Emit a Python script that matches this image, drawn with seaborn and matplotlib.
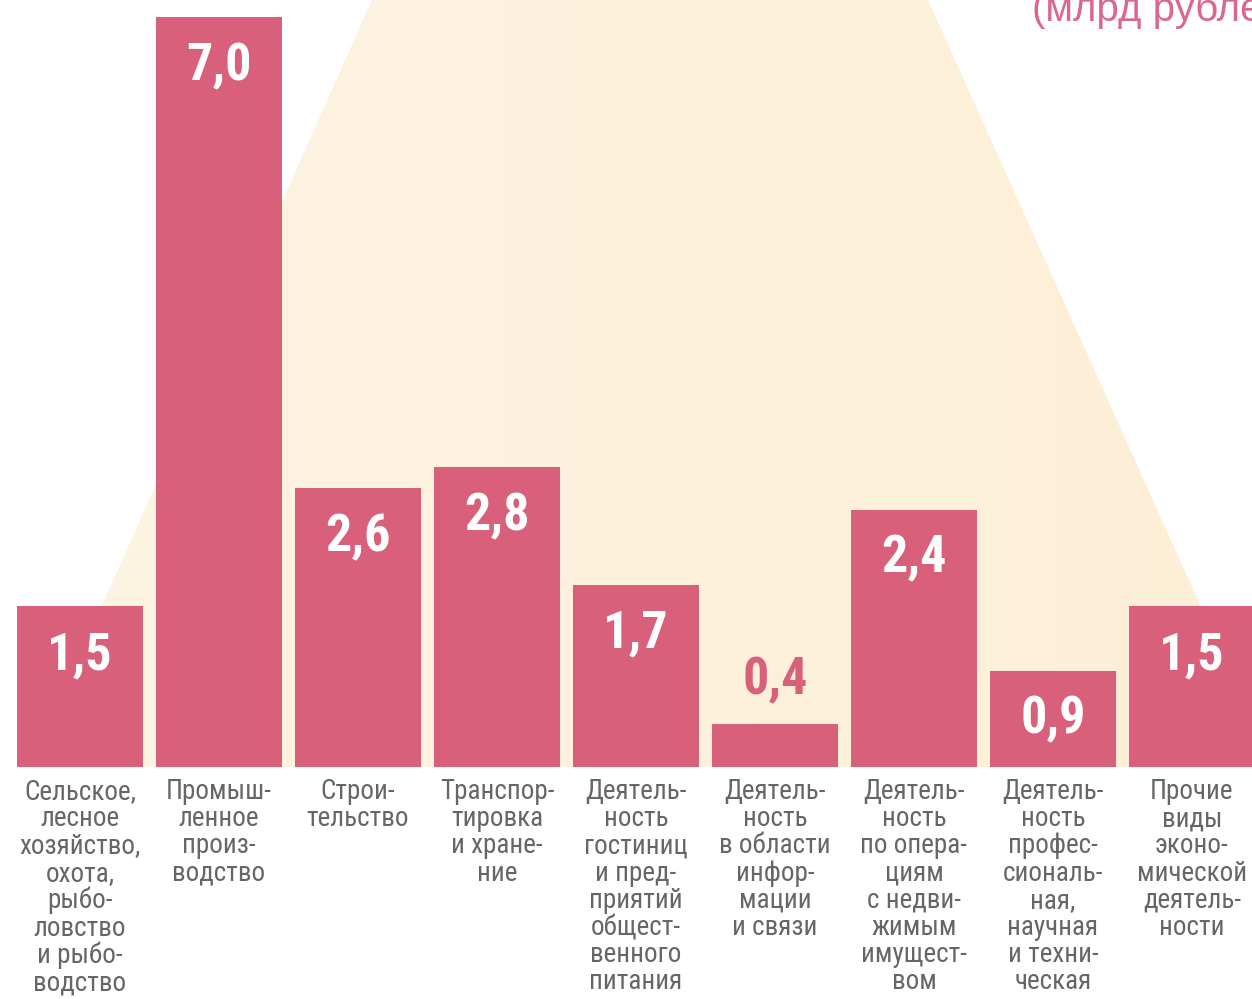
import numpy as np
import pandas as pd
import matplotlib
matplotlib.use("Agg")
import matplotlib.pyplot as plt
import seaborn as sns
from matplotlib import font_manager
from matplotlib.patches import Polygon

# === Data
categories = [
    "Сельское,\nлесное\nхозяйство,\nохота,\nрыбо-\nловство\nи рыбо-\nводство",
    "Промыш-\nленное\nпроиз-\nводство",
    "Строи-\nтельство",
    "Транспор-\nтировка\nи хране-\nние",
    "Деятель-\nность\nгостиниц\nи пред-\nприятий\nобщест-\nвенного\nпитания",
    "Деятель-\nность\nв области\nинфор-\nмации\nи связи",
    "Деятель-\nность\nпо опера-\nциям\nс недви-\nжимым\nимущест-\nвом",
    "Деятель-\nность\nпрофес-\nсиональ-\nная,\nнаучная\nи техни-\nческая",
    "Прочие\nвиды\nэконо-\nмической\nдеятель-\nности",
]
values = [1.5, 7.0, 2.6, 2.8, 1.7, 0.4, 2.4, 0.9, 1.5]
value_labels = ["1,5", "7,0", "2,6", "2,8", "1,7", "0,4", "2,4", "0,9", "1,5"]
title = "(млрд рублей)"

# === Style / fonts (prefer a condensed face if one exists)
sns.set_style("white")
fonts = font_manager.fontManager.ttflist
installed = {f.name for f in fonts}
stretch = "normal"
narrow = "Roboto"
for cand in ["Roboto Condensed", "Liberation Sans Narrow", "Open Sans Condensed",
             "Noto Sans Condensed", "DejaVu Sans Condensed"]:
    if cand in installed:
        narrow = cand
        break
else:
    cond = [f for f in fonts if f.name in ("Roboto", "Noto Sans", "Open Sans", "DejaVu Sans")
            and str(f.stretch) in ("condensed", "semi-condensed", "75", "87.5")]
    if cond:
        narrow = cond[0].name
        stretch = "condensed"
plt.rcParams["font.family"] = [narrow, "DejaVu Sans"]
plt.rcParams["font.stretch"] = stretch
condensed = narrow != "Roboto"

bar_color = "#D9607B"
label_color = "#666666"
title_color = "#DB6690"

W, H = 1252, 999
fig = plt.figure(figsize=(W / 100, H / 100), dpi=100)
fig.patch.set_facecolor("white")

# === Background trapezoid (pixel-like layout coords)
bg = fig.add_axes([0, 0, 1, 1])
bg.set_xlim(0, W)
bg.set_ylim(H, 0)
bg.axis("off")
trap = Polygon([(372, 0), (928, 0), (1273, 767), (30, 767)], closed=True,
               facecolor="none", edgecolor="none")
bg.add_patch(trap)
grad = np.linspace(0, 1, 256).reshape(1, -1)
cmap = matplotlib.colors.LinearSegmentedColormap.from_list("beige", ["#FDF4E3", "#FEEFD6"])
im = bg.imshow(grad, cmap=cmap, extent=[0, W, H, 0], aspect="auto")
im.set_clip_path(trap)

# === Bars
df = pd.DataFrame({"cat": categories, "val": values})
ax = fig.add_axes([0, (H - 767) / H, 1, 767 / H])
ax.patch.set_alpha(0)
pitch, px_per_unit = 139, 750 / 7.0
sns.barplot(data=df, x="cat", y="val", color=bar_color, saturation=1,
            width=126 / pitch, edgecolor="none", ax=ax)
ax.set_xlim(-80 / pitch, (W - 80) / pitch)
ax.set_ylim(0, 767 / px_per_unit)
ax.axis("off")

val_size = 37.5 if condensed else 37
for i, (v, lab) in enumerate(zip(values, value_labels)):
    if v < 0.6:
        ax.text(i, v + 30 / px_per_unit, lab, ha="center", va="baseline",
                fontsize=val_size, fontweight="bold", color=bar_color)
    else:
        ax.text(i, v - 63 / px_per_unit, lab, ha="center", va="baseline",
                fontsize=val_size, fontweight="bold", color="white")

lab_size = 19.5 if condensed else 18.5
for i, cat in enumerate(categories):
    ax.text(i, -11 / 767, cat, transform=ax.get_xaxis_transform(),
            ha="center", va="top", fontsize=lab_size, linespacing=1.01,
            color=label_color, clip_on=False)

fig.text(1032 / W, 1 - 21 / H, title, ha="left", va="baseline",
         fontsize=29, color=title_color, family=["Liberation Sans", "DejaVu Sans"],
         fontstretch="normal")

fig.savefig("out.png", dpi=100)
